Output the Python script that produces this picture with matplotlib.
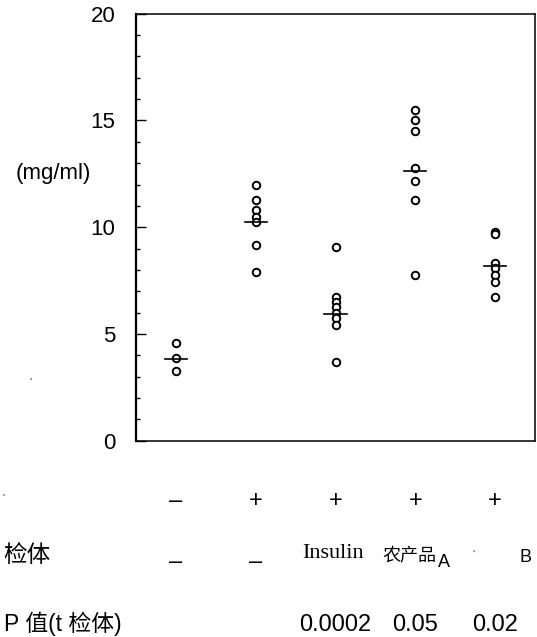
import matplotlib
matplotlib.use('Agg')
import matplotlib.pyplot as plt
import matplotlib.transforms as mtransforms
from matplotlib.ticker import MultipleLocator

plt.rcParams['font.family'] = ['Liberation Sans', 'Noto Sans CJK SC', 'DejaVu Sans']

# values (mg/ml)
groups = [1, 2, 3, 4, 5]
g1 = [4.57, 3.86, 3.26]
g2 = [11.98, 11.27, 10.81, 10.49, 10.26, 9.16, 7.92]
g3 = [9.07, 6.74, 6.51, 6.28, 5.97, 5.73, 5.40, 3.68]
g4 = [15.49, 15.02, 14.51, 12.79, 12.16, 11.27, 7.76]
g5 = [9.79, 9.67, 8.31, 8.07, 7.76, 7.45, 6.74]
centers = [3.81, 10.23, 5.92, 12.62, 8.20]

yticks = [0, 5, 10, 15, 20]
row1 = ['–', '+', '+', '+', '+']
row2 = ['–', '–', 'Insulin', '农产品', 'B']
pvals = ['', '', '0.0002', '0.05', '0.02']

W, H = 537, 637
fig = plt.figure(figsize=(W / 100, H / 100), dpi=100)
ax = fig.add_axes([136 / W, 1 - 440.7 / H, 399 / W, 427 / H])

data = [g1, g2, g3, g4, g5]
for x, vals, c in zip(groups, data, centers):
    ax.plot([x] * len(vals), vals, 'o', mfc='white', mec='black', ms=5.4, mew=1.4,
            linestyle='none', zorder=3)
    ax.plot([x - 0.14, x + 0.14], [c, c], color='black', lw=1.2, zorder=4)

ax.set_xlim(0.5, 5.5)
ax.set_ylim(0, 20)
ax.set_xticks([])
ax.set_yticks(yticks)
ax.yaxis.set_minor_locator(MultipleLocator(1))
ax.tick_params(axis='y', which='major', direction='in', length=7.5, width=1.0,
               labelsize=16, pad=15)
ax.tick_params(axis='y', which='minor', direction='in', length=3, width=1.0)
ax.spines['left'].set_linewidth(1.6)
for s in ['top', 'right', 'bottom']:
    ax.spines[s].set_linewidth(1.1)

def fy(y):
    return 1 - y / H

fig.text(53 / W, fy(173), '(mg/ml)', fontsize=16, ha='center', va='center')

# table under the chart: x follows the data columns
tr = mtransforms.blended_transform_factory(ax.transData, fig.transFigure)
for x, s in zip(groups, row1):
    ax.text(x, fy(507), s, fontsize=17, ha='center', va='baseline', transform=tr)

ax.text(1, fy(568), row2[0], fontsize=17, ha='center', va='baseline', transform=tr)
ax.text(2, fy(568), row2[1], fontsize=17, ha='center', va='baseline', transform=tr)
ax.text(2.97, fy(558), row2[2], fontsize=16, family='Liberation Serif', ha='center',
        va='baseline', transform=tr)
ax.text(3.92, fy(560), row2[3], fontsize=13, ha='center', va='baseline', transform=tr)
ax.text(4.36, fy(567), 'A', fontsize=13, ha='center', va='baseline', transform=tr)
ax.text(5.38, fy(562), row2[4], fontsize=13, ha='center', va='baseline', transform=tr)

for x, s in zip(groups, pvals):
    if s:
        ax.text(x, fy(631), s, fontsize=17, ha='center', va='baseline', transform=tr)

fig.text(3 / W, fy(562), '检体', fontsize=17, ha='left', va='baseline')
fig.text(4 / W, fy(631), 'P 值(t 检体)', fontsize=16.5, ha='left', va='baseline')

# stray marks in the original
for x, y in [(3, 499), (30, 383), (473, 555)]:
    fig.text(x / W, fy(y), "'", fontsize=8, color='#333333', ha='center', va='center')

fig.savefig('out.png', dpi=100)
